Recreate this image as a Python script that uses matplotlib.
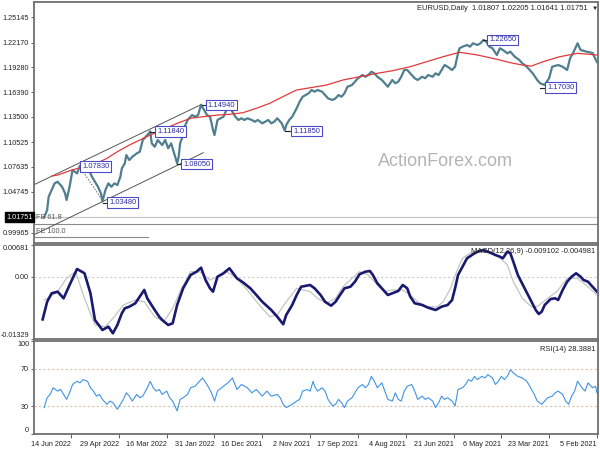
import matplotlib
matplotlib.use("Agg")
import matplotlib.pyplot as plt

FONT = ['Liberation Sans', 'DejaVu Sans']
plt.rcParams['font.family'] = FONT

# ---------------- data (bar index 0 = 5 Feb 2021, increasing toward newest) ----------------
date_bars = [0, 32, 64, 96, 128, 160, 192, 224, 256, 288, 320, 352]
date_labels = ['5 Feb 2021', '23 Mar 2021', '6 May 2021', '21 Jun 2021', '4 Aug 2021',
               '17 Sep 2021', '2 Nov 2021', '16 Dec 2021', '31 Jan 2022', '16 Mar 2022',
               '29 Apr 2022', '14 Jun 2022']

price_bar = [0, 3, 7, 11, 13, 16, 18, 20, 23, 26, 30, 32, 35, 38, 40, 43, 45, 47, 50, 52,
             55, 58, 60, 63, 65, 67, 70, 72, 74, 76, 78, 80, 83, 85, 87, 90, 92, 93, 95, 97,
             100, 102, 104, 106, 108, 110, 113, 115, 117, 120, 122, 124, 127, 129, 131, 133, 135, 137, 140, 142,
             144, 147, 149, 151, 153, 155, 157, 160, 162, 164, 167, 169, 171, 173, 175, 177, 180, 182, 184, 187,
             189, 191, 193, 197, 199, 201, 204, 206, 208, 209, 211, 214, 216, 218, 220, 222, 224, 227, 229, 231,
             234, 236, 238, 240, 242, 244, 246, 248, 250, 252, 254, 256, 257, 258, 259, 261, 263, 265, 267, 269,
             271, 274, 276, 277, 279, 280, 281, 283, 285, 287, 289, 291, 294, 296, 298, 299, 301, 304, 306, 308,
             311, 313, 315, 316, 318, 319, 321, 323, 325, 327, 329, 331, 332, 334, 336, 338, 340, 341, 344, 346,
             348, 351, 353, 355, 356, 358, 361, 363, 365, 367, 368, 370]
price_close = [1.1990, 1.2097, 1.2112, 1.2132, 1.2210, 1.2097, 1.2035, 1.1898, 1.1936, 1.1956, 1.1936, 1.1804, 1.1722, 1.1742, 1.1781, 1.1859, 1.1898, 1.1936, 1.1976, 1.2015,
               1.2053, 1.2112, 1.2093, 1.2132, 1.2152, 1.2073, 1.2152, 1.2170, 1.2229, 1.2249, 1.2210, 1.2190, 1.2210, 1.2170, 1.2190, 1.2170, 1.2152, 1.2093, 1.1936, 1.1898,
               1.1936, 1.1956, 1.1898, 1.1839, 1.1859, 1.1819, 1.1839, 1.1801, 1.1819, 1.1781, 1.1801, 1.1839, 1.1898, 1.1898, 1.1819, 1.1761, 1.1742, 1.1781, 1.1702, 1.1742,
               1.1781, 1.1819, 1.1859, 1.1878, 1.1839, 1.1819, 1.1839, 1.1801, 1.1761, 1.1722, 1.1702, 1.1625, 1.1585, 1.1605, 1.1566, 1.1547, 1.1566, 1.1605, 1.1644, 1.1664,
               1.1644, 1.1664, 1.1625, 1.1585, 1.1527, 1.1450, 1.1351, 1.1313, 1.1254, 1.1190, 1.1274, 1.1333, 1.1293, 1.1274, 1.1313, 1.1293, 1.1274, 1.1313, 1.1293, 1.1313,
               1.1333, 1.1313, 1.1333, 1.1313, 1.1351, 1.1410, 1.1468, 1.1430, 1.1351, 1.1333, 1.1313, 1.1137, 1.1196, 1.1277, 1.1351, 1.1371, 1.1430, 1.1490, 1.1371, 1.1351,
               1.1371, 1.1313, 1.1234, 1.1137, 1.1040, 1.0883, 1.0806, 1.0923, 1.1040, 1.0982, 1.1079, 1.1020, 1.1079, 1.1000, 1.1040, 1.1180, 1.1137, 1.1079, 1.0942, 1.0923,
               1.0883, 1.0845, 1.0903, 1.0806, 1.0748, 1.0649, 1.0552, 1.0572, 1.0532, 1.0572, 1.0494, 1.0360, 1.0455, 1.0532, 1.0591, 1.0649, 1.0728, 1.0708, 1.0748, 1.0780,
               1.0689, 1.0728, 1.0532, 1.0377, 1.0455, 1.0532, 1.0591, 1.0572, 1.0494, 1.0415, 1.0260, 1.0175]

ma_bar = [0, 13, 25, 36, 44, 50, 58, 67, 80, 92, 103, 114, 125, 137, 147, 159, 170, 181, 192, 201,
          208, 219, 228, 237, 246, 254, 264, 272, 281, 291, 299, 306, 313, 321, 328, 335, 344, 353, 361, 365]
ma_val = [1.2073, 1.2093, 1.2053, 1.1995, 1.1944, 1.1956, 1.1983, 1.2023, 1.2073, 1.2105, 1.2053, 1.1995, 1.1936, 1.1889, 1.1859, 1.1819, 1.1781, 1.1722, 1.1690, 1.1664,
          1.1605, 1.1508, 1.1450, 1.1398, 1.1379, 1.1371, 1.1351, 1.1333, 1.1274, 1.1196, 1.1137, 1.1079, 1.1020, 1.0942, 1.0864, 1.0806, 1.0766, 1.0719, 1.0669, 1.0657]

macd_bar = [0, 3, 6, 9, 11, 14, 17, 20, 23, 26, 28, 31, 35, 37, 39, 41, 45, 49, 53, 56,
            58, 60, 63, 65, 68, 72, 76, 80, 83, 87, 90, 93, 95, 97, 100, 104, 108, 113, 117, 122,
            125, 127, 130, 133, 137, 140, 143, 147, 150, 152, 155, 159, 162, 165, 169, 172, 175, 178, 182, 185,
            189, 192, 198, 201, 204, 208, 210, 214, 218, 224, 228, 232, 237, 241, 246, 250, 254, 257, 259, 262,
            265, 268, 272, 277, 281, 284, 287, 291, 293, 296, 301, 303, 306, 309, 313, 316, 318, 321, 324, 327,
            331, 336, 339, 343, 348, 353, 357, 361, 365, 368, 371]
macd_val = [-0.00317, -0.00211, -0.00104, -0.00067, 0.00003, 0.00076, 0.00003, -0.00104, -0.00281, -0.00495, -0.00459, -0.00474, -0.00602, -0.00745, -0.00794, -0.00709, -0.00459, -0.00211, 0.00040, 0.00324,
            0.00504, 0.00538, 0.00397, 0.00431, 0.00467, 0.00525, 0.00574, 0.00538, 0.00482, 0.00397, 0.00217, 0.00040, -0.00245, -0.00495, -0.00602, -0.00638, -0.00709, -0.00660, -0.00602, -0.00565,
            -0.00422, -0.00245, -0.00174, -0.00302, -0.00352, -0.00388, -0.00281, -0.00138, 0.00040, 0.00125, 0.00110, 0.00055, -0.00104, -0.00211, -0.00245, -0.00388, -0.00533, -0.00617, -0.00533, -0.00388,
            -0.00245, -0.00174, -0.00211, -0.00388, -0.00602, -0.00815, -0.01014, -0.00852, -0.00709, -0.00533, -0.00388, -0.00245, -0.00116, -0.00031, 0.00183, 0.00076, 0.00003, -0.00317, -0.00245, -0.00067,
            0.00196, 0.00110, 0.00040, -0.00245, -0.00602, -0.00993, -0.01029, -0.00923, -0.00852, -0.00709, -0.00459, -0.00280, -0.00422, -0.00565, -0.00638, -0.00672, -0.00779, -0.01029, -0.01207, -0.01066,
            -0.01136, -0.00923, -0.00352, 0.00076, 0.00168, -0.00174, -0.00459, -0.00317, -0.00352, -0.00533, -0.00910]

signal_bar = [0, 6, 13, 20, 27, 33, 40, 44, 50, 56, 60, 67, 76, 85, 90, 94, 98, 103, 107, 114,
              120, 125, 130, 137, 142, 147, 153, 159, 164, 170, 175, 181, 187, 192, 201, 208, 214, 219, 226, 234,
              241, 248, 254, 259, 266, 272, 278, 284, 290, 296, 303, 309, 317, 323, 329, 336, 343, 349, 355, 361,
              366, 370]
signal_val = [-0.00388, -0.00211, -0.00031, -0.00031, -0.00317, -0.00459, -0.00638, -0.00638, -0.00459, -0.00104, 0.00253, 0.00467, 0.00538, 0.00504, 0.00397, 0.00110, -0.00245, -0.00533, -0.00638, -0.00638,
              -0.00533, -0.00388, -0.00281, -0.00281, -0.00317, -0.00174, 0.00040, 0.00110, -0.00031, -0.00211, -0.00459, -0.00565, -0.00459, -0.00317, -0.00245, -0.00533, -0.00815, -0.00852, -0.00602, -0.00281,
              -0.00031, 0.00110, 0.00003, -0.00067, 0.00110, 0.00110, -0.00245, -0.00672, -0.00959, -0.00852, -0.00533, -0.00495, -0.00602, -0.00852, -0.01066, -0.01029, -0.00459, 0.00110, -0.00031, -0.00317,
              -0.00422, -0.00498]

rsi_bar = [0, 1, 3, 6, 8, 10, 13, 15, 17, 19, 21, 23, 26, 28, 30, 33, 35, 37, 40, 42,
           45, 47, 50, 53, 56, 58, 60, 62, 64, 66, 68, 70, 73, 75, 77, 80, 82, 84, 86, 88,
           90, 93, 95, 97, 100, 102, 104, 106, 108, 110, 113, 115, 117, 120, 122, 124, 127, 129, 131, 133,
           135, 137, 140, 142, 144, 147, 149, 151, 153, 155, 157, 160, 162, 164, 167, 169, 171, 173, 175, 177,
           180, 182, 184, 187, 189, 190, 192, 194, 197, 199, 201, 204, 206, 208, 210, 212, 214, 218, 221, 224,
           228, 231, 234, 238, 241, 244, 247, 250, 254, 256, 258, 261, 264, 266, 269, 272, 274, 277, 279, 281,
           284, 286, 288, 291, 293, 295, 297, 299, 301, 304, 306, 308, 311, 313, 315, 317, 319, 321, 324, 326,
           328, 331, 333, 335, 337, 339, 341, 344, 346, 348, 351, 353, 355, 357, 359, 361, 364, 366, 368, 370]
rsi_val = [44.3, 51.4, 49.7, 55.0, 46.1, 49.7, 56.7, 46.1, 40.7, 31.9, 35.4, 42.6, 46.1, 44.3, 40.7, 39.0, 35.4, 31.9, 35.4, 42.6,
           51.4, 56.7, 60.3, 62.0, 65.6, 69.1, 62.0, 58.5, 62.0, 56.7, 53.2, 60.3, 63.8, 60.3, 62.0, 58.5, 62.0, 56.7, 58.5, 53.2,
           49.7, 47.9, 30.1, 35.4, 39.0, 37.2, 40.7, 33.7, 28.4, 35.4, 39.0, 37.2, 40.7, 37.2, 46.1, 53.2, 51.4, 46.1, 35.4, 37.2,
           44.3, 35.4, 37.2, 46.1, 55.0, 49.7, 56.7, 62.0, 53.2, 49.7, 53.2, 49.7, 44.3, 39.0, 35.4, 28.4, 33.7, 37.2, 31.9, 30.1,
           37.2, 46.1, 49.7, 46.1, 51.4, 56.7, 46.1, 47.9, 46.1, 37.2, 35.4, 31.9, 30.1, 28.4, 31.9, 39.0, 42.6, 40.7, 46.1, 40.7,
           47.9, 44.3, 49.7, 53.2, 47.9, 60.3, 55.0, 51.4, 46.1, 35.4, 44.3, 53.2, 60.3, 56.7, 51.4, 49.7, 42.6, 39.0, 37.2, 24.8,
           35.4, 39.0, 46.1, 42.6, 47.9, 46.1, 49.7, 56.7, 49.7, 40.7, 39.0, 42.6, 35.4, 40.7, 44.3, 37.2, 31.9, 26.6, 33.7, 35.4,
           31.9, 37.2, 42.6, 40.7, 46.1, 49.7, 56.7, 58.5, 55.0, 56.7, 53.2, 44.3, 37.2, 42.6, 47.9, 46.1, 49.7, 42.6, 39.0, 28.4]

price_ticks = [1.25145, 1.22170, 1.19280, 1.16390, 1.13500, 1.10525, 1.07635, 1.04745, 0.99965]
last_price = 1.01751
fe618 = 1.0096
fe100 = 0.9940

# swing labels: (label, left-edge bar, price, anchor bar)
swing_text = ['1.22650', '1.17030', '1.14940', '1.11840', '1.07830', '1.03480', '1.08050', '1.11850']
swing_box_bar = [72.3, 33.5, 260.4, 294.5, 344.7, 326.6, 277.1, 203.5]
swing_price = [1.2249, 1.1693, 1.1488, 1.1178, 1.0769, 1.0347, 1.0798, 1.1184]
swing_anchor_bar = [76.0, 38.0, 264.4, 299.0, 346.0, 330.7, 281.0, 208.8]

channel_upper_bar = [377.3, 264.6]
channel_upper_price = [1.0552, 1.1496]
channel_lower_bar = [377.3, 263.5]
channel_lower_price = [0.9966, 1.0930]
dotted_bar = [346.1, 330.7]
dotted_price = [1.0763, 1.0365]

# ---------------- figure ----------------
fig = plt.figure(figsize=(6, 4.5), dpi=100)
W, H = 600.0, 450.0
left, right = 34, 598
ax1 = fig.add_axes([left / W, 1 - 243 / H, (right - left) / W, 241 / H])
ax2 = fig.add_axes([left / W, 1 - 339 / H, (right - left) / W, 94 / H])
ax3 = fig.add_axes([left / W, 1 - 434 / H, (right - left) / W, 93 / H])

XL = (376.8, -0.67)
TXT = '#222222'
LS = 5.2
for ax in (ax1, ax2, ax3):
    ax.set_xlim(*XL)
    for s in ax.spines.values():
        s.set_color('#6f6f6f')
        s.set_linewidth(1.3)
    ax.tick_params(axis='y', left=True, right=False, labelleft=True, labelright=False,
                   length=2.5, width=0.6, color='#444444', labelsize=LS, labelcolor=TXT, pad=1)
    ax.tick_params(axis='x', bottom=False, labelbottom=False)

# ---- price pane ----
ax1.set_ylim(0.98745, 1.26930)
ax1.axhline(last_price, color='#c8c8c8', lw=0.9, zorder=1)
ax1.axhline(fe618, color='#8a8a8a', lw=0.8, zorder=1)
ax1.plot([376.8, 300.5], [fe100, fe100], color='#8a8a8a', lw=0.8, zorder=1)
ax1.plot(channel_upper_bar, channel_upper_price, color='#555555', lw=0.7, zorder=2)
ax1.plot(channel_lower_bar, channel_lower_price, color='#555555', lw=0.7, zorder=2)
ax1.plot(dotted_bar, dotted_price, color='#666666', lw=0.7, ls=(0, (1.5, 1.5)), zorder=2)
ax1.plot(price_bar, price_close, color='#4f7e8f', lw=1.6, zorder=3)
ax1.plot(ma_bar, ma_val, color='#e23a3a', lw=0.9, zorder=4)

for t, bb, p, ab in zip(swing_text, swing_box_bar, swing_price, swing_anchor_bar):
    ax1.plot([ab, bb], [p, p], color='#222222', lw=0.8, zorder=5)
    ax1.text(bb, p, t, ha='left', va='center', fontsize=5.4, color='#2a2aa8', zorder=6,
             bbox=dict(boxstyle='square,pad=0.25', fc='white', ec='#4a4ac8', lw=0.8))

ax1.set_yticks(price_ticks)
ax1.set_yticklabels([f'{v:.5f}' for v in price_ticks])
ax1.text(-0.002, last_price, f'{last_price:.5f}', transform=ax1.get_yaxis_transform(),
         ha='right', va='center', fontsize=LS, color='white',
         bbox=dict(boxstyle='square,pad=0.2', fc='black', ec='black'))
ax1.text(0.003, fe618 + 0.003, 'FE 61.8', transform=ax1.get_yaxis_transform(),
         ha='left', va='bottom', fontsize=5.2, color='#555555')
ax1.text(0.003, fe100 + 0.003, 'FE 100.0', transform=ax1.get_yaxis_transform(),
         ha='left', va='bottom', fontsize=5.2, color='#555555')
ax1.text(0.729, 0.34, 'ActionForex.com', transform=ax1.transAxes, ha='center', va='center',
         fontsize=13, color='#b4b4b4')
fig.text(588 / W, 1 - 8 / H, 'EURUSD,Daily  1.01807 1.02205 1.01641 1.01751',
         ha='right', va='center', fontsize=5.4, color=TXT)
fig.text(595 / W, 1 - 8 / H, '\u25BC', ha='center', va='center', fontsize=4.5, color=TXT)

# ---- MACD pane ----
ax2.set_ylim(-0.01329, 0.00681)
ax2.axhline(0.0, color='#cfcfcf', lw=0.8, ls=(0, (2, 2)))
ax2.plot(signal_bar, signal_val, color='#c4c4c4', lw=0.9)
ax2.plot(macd_bar, macd_val, color='#191970', lw=1.9)
ax2.set_yticks([0.00681, 0.0, -0.01329])
ax2.set_yticklabels(['0.00681', '0.00', '-0.01329'])
tl = ax2.get_yticklabels()
tl[0].set_va('top')
tl[2].set_va('bottom')
ax2.text(0.995, 0.965, 'MACD(12,26,9) -0.009102 -0.004981', transform=ax2.transAxes,
         ha='right', va='top', fontsize=5.4, color=TXT)

# ---- RSI pane ----
ax3.set_ylim(0, 100)
for lv in (70, 30):
    ax3.axhline(lv, color='#d9c2b0', lw=0.8, ls=(0, (2, 2)))
ax3.plot(rsi_bar, rsi_val, color='#3f94e6', lw=0.8)
ax3.set_yticks([100, 70, 30, 0])
ax3.set_yticklabels(['100', '70', '30', '0'])
tl = ax3.get_yticklabels()
tl[0].set_va('top')
tl[3].set_va('bottom')
ax3.text(0.995, 0.95, 'RSI(14) 28.3881', transform=ax3.transAxes,
         ha='right', va='top', fontsize=5.4, color=TXT)
ax3.set_xticks(date_bars)
ax3.set_xticklabels(date_labels)
ax3.tick_params(axis='x', bottom=True, labelbottom=True, length=3, width=0.6, color='#444444',
                labelsize=LS, labelcolor=TXT, pad=2)
for lab in ax3.get_xticklabels():
    lab.set_ha('right')

fig.savefig('out.png', dpi=100, facecolor='white')
